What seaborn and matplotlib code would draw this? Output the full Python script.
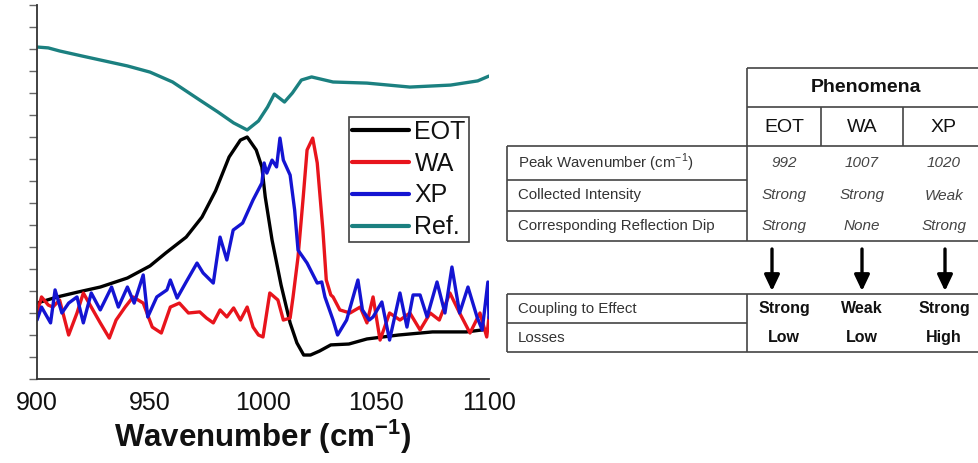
import numpy as np
import pandas as pd
import matplotlib
matplotlib.use("Agg")
import matplotlib.pyplot as plt
import seaborn as sns

# ---------------- data ----------------
eot_x = [900, 909, 918, 928, 940, 950, 957, 966, 973, 979, 985, 990, 993, 997, 999.5,
         1001, 1004, 1008, 1012, 1015, 1018, 1021, 1025, 1030, 1038, 1046, 1060, 1075, 1090, 1100]
eot_y = [3.45, 3.73, 3.95, 4.18, 4.59, 5.14, 5.73, 6.45, 7.36, 8.55, 10.09, 10.86, 11.00, 10.41, 9.64,
         8.27, 6.32, 4.27, 2.55, 1.64, 1.09, 1.09, 1.27, 1.55, 1.59, 1.82, 2.00, 2.14, 2.14, 2.27]

wa_x = [900, 902, 905, 907, 910, 914, 917.7, 920.5, 924, 928, 932, 935, 939, 942.5, 947, 951, 955,
        959, 963, 967, 972, 975, 978, 981, 984, 987, 990, 993, 995.6, 998, 1000, 1003, 1006.6, 1009,
        1012, 1013.3, 1015.5, 1017.8, 1019.5, 1022, 1024, 1026.5, 1028, 1030, 1031, 1034, 1038.5,
        1043, 1046, 1048.7, 1051.8, 1056, 1060.6, 1065, 1069.5, 1074, 1078, 1082.7, 1087, 1091.6,
        1096, 1099, 1100]
wa_y = [3.0, 3.73, 3.36, 3.27, 3.59, 2.0, 3.0, 3.91, 3.27, 2.55, 1.86, 2.68, 3.27, 3.73, 3.45, 2.36, 2.09,
        3.27, 3.45, 3.0, 3.05, 2.77, 2.55, 3.14, 2.82, 3.23, 2.68, 3.27, 2.36, 2.0, 1.91, 3.91, 3.59, 2.68,
        2.77, 3.73, 5.55, 8.27, 10.41, 10.95, 9.82, 6.77, 4.5, 3.82, 3.73, 3.14, 3.0,
        3.27, 2.55, 3.73, 1.77, 3.0, 2.68, 3.0, 2.23, 3.0, 2.68, 3.91, 3.0, 2.09,
        3.0, 1.91, 2.82]

xp_x = [900, 902, 906, 908, 911, 914, 917.7, 920.5, 924, 928, 933, 936, 940, 943, 947, 949, 953,
        957.5, 959, 962, 966, 970.8, 973.5, 978, 981, 984, 986.8, 991, 995.6, 999.5, 1000.5, 1001.7,
        1004, 1006, 1007.5, 1009, 1012, 1014, 1015.5, 1019.5, 1024, 1026, 1027.4, 1031, 1033, 1037,
        1042, 1044, 1047, 1048.7, 1052.6, 1056, 1060.6, 1063.7, 1066.4, 1069.5, 1072.6, 1077, 1080.5,
        1083.6, 1087, 1090.7, 1094.7, 1097, 1099.5, 1100]
xp_y = [2.68, 3.27, 2.55, 4.05, 3.0, 3.45, 3.73, 2.55, 3.91, 3.14, 4.18, 3.27, 4.18, 3.45, 4.73, 2.82, 3.73,
        4.05, 4.5, 3.68, 4.41, 5.27, 4.82, 4.36, 6.45, 5.41, 6.77, 7.09, 8.14, 8.91, 9.82, 9.36,
        9.95, 9.64, 10.95, 9.95, 9.27, 7.68, 5.86, 5.27, 4.36, 4.41, 3.73, 2.68, 2.0, 2.68,
        4.5, 3.14, 2.68, 2.82, 3.5, 1.77, 3.91, 2.36, 3.82, 3.82, 2.82, 4.41, 3.0,
        5.09, 3.0, 4.18, 2.82, 2.23, 4.41, 2.77]

ref_x = [900, 905, 910, 920, 928, 940, 950, 960, 972, 980, 987, 993, 998, 1002, 1005, 1009.5,
         1013, 1017, 1021.5, 1031, 1046, 1065, 1083, 1095, 1100]
ref_y = [15.09, 15.05, 14.91, 14.68, 14.5, 14.23, 13.95, 13.5, 12.68, 12.14, 11.64, 11.32, 11.73,
         12.36, 12.95, 12.59, 13.0, 13.59, 13.73, 13.5, 13.45, 13.27, 13.36, 13.55, 13.77]

series_names = ["EOT", "WA", "XP", "Ref."]
series_colors = ["#000000", "#e8141c", "#1414d2", "#1b8080"]

x_ticks = [900, 950, 1000, 1050, 1100]
x_label = "Wavenumber (cm$^{\\mathregular{-1}}$)"

# table content
table_header = "Phenomena"
phenomena = ["EOT", "WA", "XP"]
top_row_labels = ["Peak Wavenumber (cm$^{\\mathregular{-1}}$)", "Collected Intensity",
                  "Corresponding Reflection Dip"]
top_values = [["992", "1007", "1020"],
              ["Strong", "Strong", "Weak"],
              ["Strong", "None", "Strong"]]
bottom_row_labels = ["Coupling to Effect", "Losses"]
bottom_values = [["Strong", "Weak", "Strong"],
                 ["Low", "Low", "High"]]

# ---------------- build long table ----------------
frames = []
for name, xs, ys in [("EOT", eot_x, eot_y), ("WA", wa_x, wa_y),
                     ("XP", xp_x, xp_y), ("Ref.", ref_x, ref_y)]:
    frames.append(pd.DataFrame({"w": xs, "v": ys, "s": name}))
df = pd.concat(frames, ignore_index=True)

sns.set_theme(style="white")
plt.rcParams["font.family"] = ["Liberation Sans", "DejaVu Sans"]
plt.rcParams["mathtext.fontset"] = "custom"
plt.rcParams["mathtext.rm"] = "Liberation Sans"
plt.rcParams["mathtext.bf"] = "Liberation Sans:bold"

W, H = 979, 463
fig = plt.figure(figsize=(W / 100, H / 100), dpi=100)
fig.patch.set_facecolor("white")

# overlay axes in pixel coordinates for the table
ov = fig.add_axes([0, 0, 1, 1])
ov.set_xlim(0, W)
ov.set_ylim(H, 0)
ov.axis("off")
ov.patch.set_visible(False)

ax = fig.add_axes([37 / W, 1 - 379 / H, 452 / W, 374 / H])
ax.patch.set_facecolor("white")

sns.lineplot(data=df, x="w", y="v", hue="s", hue_order=series_names,
             palette=dict(zip(series_names, series_colors)), estimator=None,
             sort=False, linewidth=2.4, ax=ax)

ax.set_xlim(900, 1100)
ax.set_ylim(0, 17)
ax.set_xticks(x_ticks)
ax.set_xticklabels([str(t) for t in x_ticks])
ax.set_xticks(np.arange(900, 1101, 10), minor=True)
ax.set_yticks(np.arange(0, 18, 1))
ax.set_yticklabels([])
for side in ["top", "right"]:
    ax.spines[side].set_visible(False)
for side in ["left", "bottom"]:
    ax.spines[side].set_color("#333333")
    ax.spines[side].set_linewidth(1.3)
ax.tick_params(axis="x", which="both", direction="inout", length=7, width=1, color="#666666",
               labelsize=18, pad=5, labelcolor="#111111")
ax.tick_params(axis="y", which="major", direction="out", length=6, width=1, color="#666666",
               left=True)
ax.set_xlabel(x_label, fontsize=22.5, fontweight="bold", color="#111111", labelpad=2)
ax.set_ylabel("")

leg = ax.legend(loc="upper left", bbox_to_anchor=(349 / W, 1 - 117 / H),
                bbox_transform=fig.transFigure, fontsize=18, frameon=True, fancybox=False,
                edgecolor="#111111", borderpad=0.12, borderaxespad=0, handlelength=2.3,
                handletextpad=0.2, labelspacing=0.31, title=None)
leg.get_frame().set_linewidth(1.2)
for line in leg.get_lines():
    line.set_linewidth(3.0)
for t in leg.get_texts():
    t.set_color("#111111")

# ---------------- table drawing ----------------
lc = "#444444"
lw = 1.2
L, M, R = 507, 747, W + 5
col_div = [821, 903]
col_c = [784, 862, 944]
arrow_x = [772, 862, 945]

def hline(y, x0, x1):
    ov.plot([x0, x1], [y, y], color=lc, lw=lw, solid_capstyle="butt")

def vline(x, y0, y1):
    ov.plot([x, x], [y0, y1], color=lc, lw=lw, solid_capstyle="butt")

# header
hline(68, M, R)
hline(107, M, R)
vline(M, 68, 146)
for xd in col_div:
    vline(xd, 107, 146)
ov.text(866, 88, table_header, ha="center", va="center", fontsize=14,
        fontweight="bold", color="#111111")
for xc, p in zip(col_c, phenomena):
    ov.text(xc, 127, p, ha="center", va="center", fontsize=14, color="#111111")

# first table
top_rows = [146, 180, 211, 241]
hline(top_rows[0], L, R)
hline(top_rows[-1], L, R)
for yy in top_rows[1:-1]:
    hline(yy, L, M)
vline(L, top_rows[0], top_rows[-1])
vline(M, top_rows[0], top_rows[-1])
for i, lab in enumerate(top_row_labels):
    yc = (top_rows[i] + top_rows[i + 1]) / 2
    ov.text(518, yc, lab, ha="left", va="center", fontsize=10.8, color="#333333")
    for xc, val in zip(col_c, top_values[i]):
        ov.text(xc, yc, val, ha="center", va="center", fontsize=11, style="italic",
                color="#444444")

# arrows
for xa in arrow_x:
    ov.annotate("", xy=(xa, 291), xytext=(xa, 249),
                arrowprops=dict(arrowstyle="-|>,head_length=0.8,head_width=0.38",
                                color="black", lw=2.4, shrinkA=0, shrinkB=0))

# second table
bot_rows = [294, 323, 352]
hline(bot_rows[0], L, R)
hline(bot_rows[-1], L, R)
hline(bot_rows[1], L, M)
vline(L, bot_rows[0], bot_rows[-1])
vline(M, bot_rows[0], bot_rows[-1])
for i, lab in enumerate(bottom_row_labels):
    yc = (bot_rows[i] + bot_rows[i + 1]) / 2
    ov.text(518, yc, lab, ha="left", va="center", fontsize=10.8, color="#333333")
    for xc, val in zip(col_c, bottom_values[i]):
        ov.text(xc, yc, val, ha="center", va="center", fontsize=11.5, fontweight="bold",
                color="#111111")

fig.savefig("out.png", dpi=100, facecolor="white")
